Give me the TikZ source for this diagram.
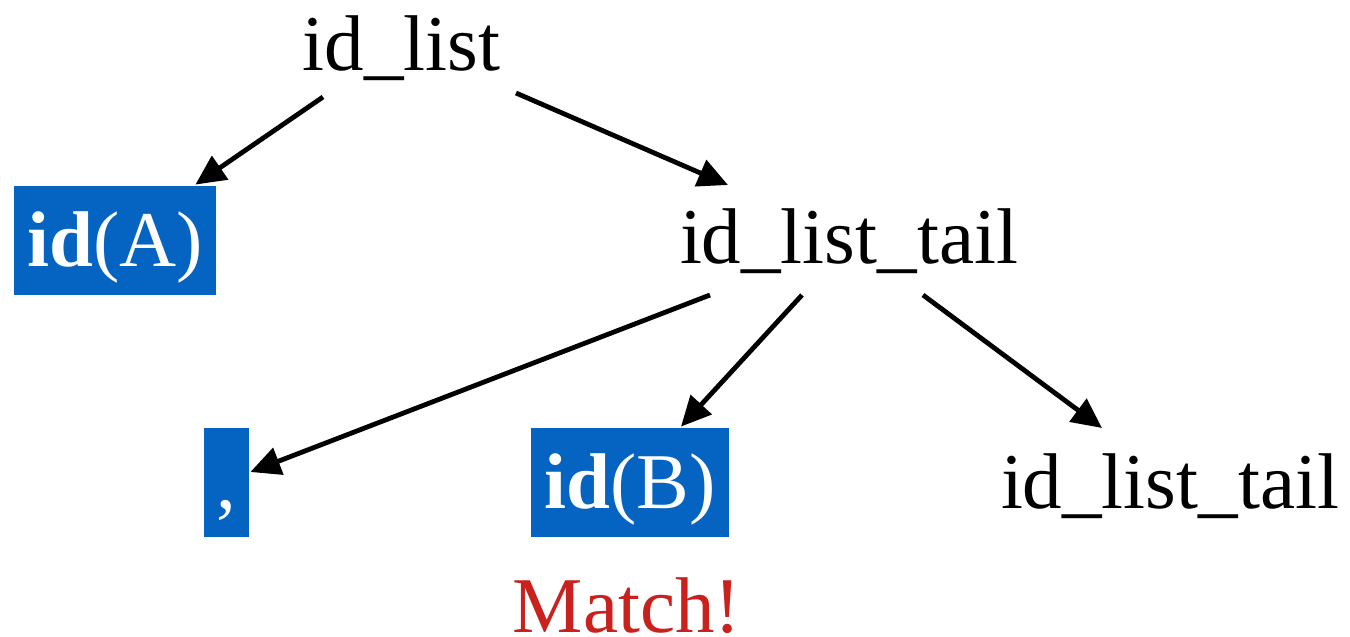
\documentclass[tikz,border=0pt]{standalone}
\usepackage{fontspec}
\setmainfont{Liberation Serif}
\usetikzlibrary{arrows.meta}
\definecolor{tokblue}{RGB}{5,99,193}
\definecolor{matchred}{RGB}{201,33,30}
\begin{document}
\begin{tikzpicture}[x=0.5pt,y=-0.5pt,
  every node/.style={font=\fontsize{39.5pt}{47pt}\selectfont, inner sep=0pt},
  sym/.style={anchor=base},
  tok/.style={anchor=base, fill=tokblue, text=white, text height=40pt, text depth=14.5pt},
  arr/.style={-{Triangle[length=15pt,width=14pt]}, line width=2.4pt, black}]
\useasboundingbox (0,0) rectangle (1350,637);

% grammar symbols
\node[sym] (idlist) at (401.5,70) {id\_list};
\node[sym] (tailA) at (849,263) {id\_list\_tail};
\node[sym] (tailB) at (1170,508) {id\_list\_tail};

% matched tokens
\node[tok, minimum width=101pt] (idA) at (115,266) {\textbf{id}(A)};
\node[tok, minimum width=22.5pt] (comma) at (226.5,508) {,};
\node[tok, minimum width=99pt] (idB) at (630,508) {\textbf{id}(B)};

\node[sym, text=matchred] (match) at (627,632) {Match!};

% parse tree edges
\draw[arr] ([shift={(-78.5,27)}]idlist.base) -- ([shift={(-21,-1)}]idA.north east);
\draw[arr] ([shift={(114.5,23)}]idlist.base) -- ([shift={(-121,-78)}]tailA.base);
\draw[arr] ([shift={(-139,32)}]tailA.base) -- ([shift={(1,-10.5)}]comma.east);
\draw[arr] ([shift={(-47,32)}]tailA.base) -- ([shift={(51,-1)}]idB.north);
\draw[arr] ([shift={(74,32)}]tailA.base) -- ([shift={(-68,-80)}]tailB.base);
\end{tikzpicture}
\end{document}
